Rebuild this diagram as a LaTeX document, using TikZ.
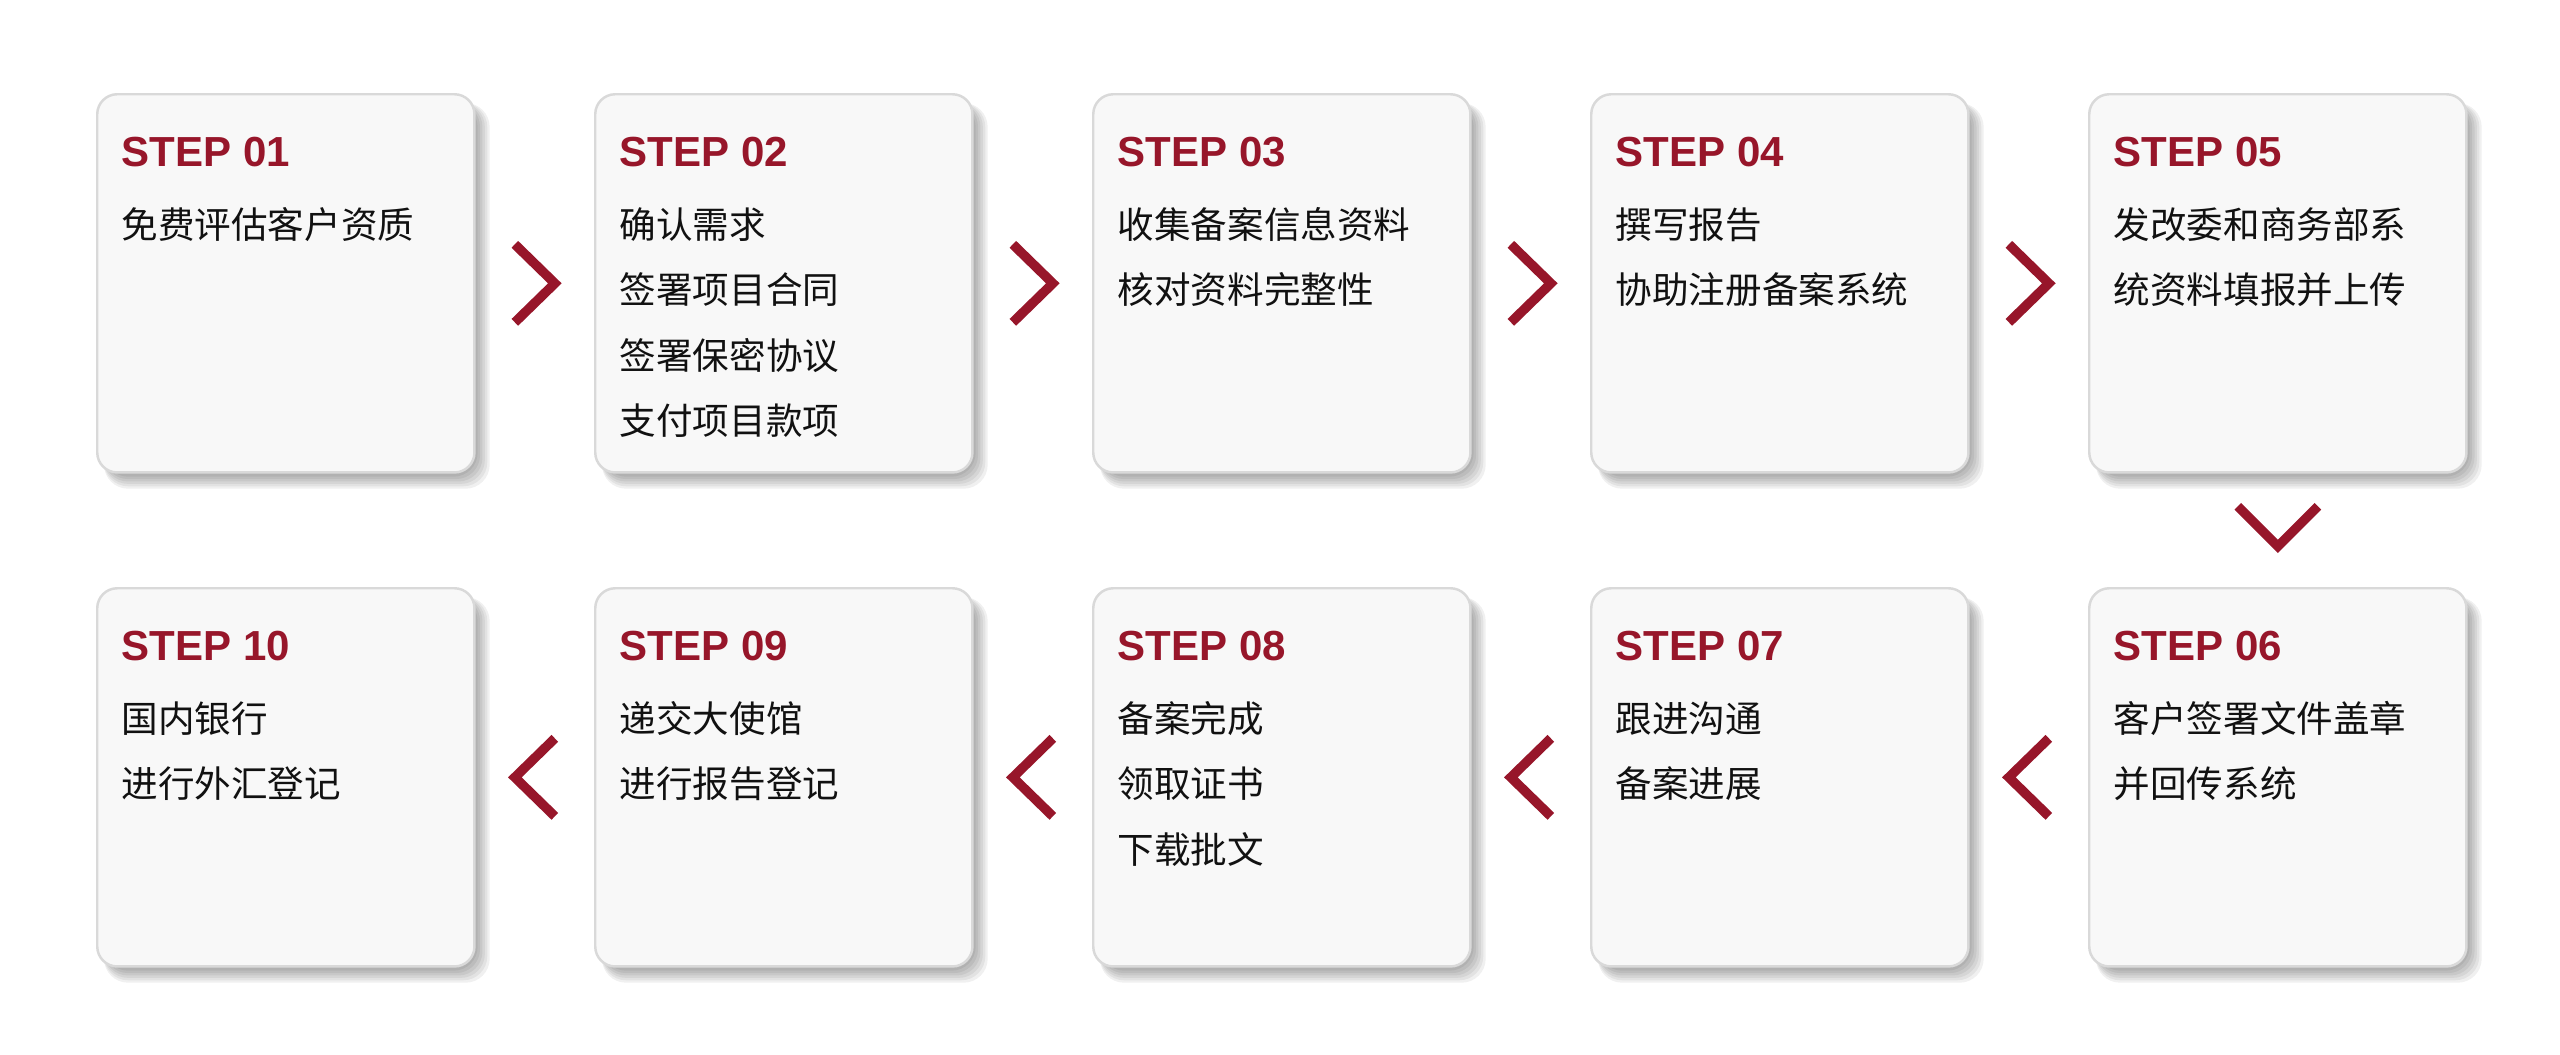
\documentclass[tikz,border=0pt]{standalone}
\usepackage{fontspec}
\setmainfont{Liberation Sans}
\newfontfamily\cjk{Noto Sans CJK SC}
\usetikzlibrary{calc,backgrounds}
\definecolor{brand}{HTML}{97162A}
\definecolor{boxfill}{HTML}{F8F8F8}
\definecolor{boxline}{HTML}{D9D9D9}
\definecolor{inktext}{HTML}{111111}
\tikzset{
  stepbox/.style={draw=boxline, line width=0.7pt, fill=boxfill, rounded corners=0.2cm,
    minimum width=3.77cm, minimum height=3.78cm, inner sep=0pt, anchor=north west},
  steptitle/.style={text=brand, font=\fontsize{11.95pt}{14pt}\selectfont\bfseries,
    anchor=base west, inner sep=0pt},
  stepline/.style={text=inktext, font=\cjk\fontsize{10.4pt}{12pt}\selectfont,
    anchor=base west, inner sep=0pt},
  shadowlayer/.style={fill=black, opacity=0.06, rounded corners=0.24cm},
  chev/.style={draw=brand, line width=2.7pt, line join=miter},
}
\begin{document}
\begin{tikzpicture}[x=0.01cm, y=-0.01cm]
\useasboundingbox (0,0) rectangle (2560,1054);
\foreach \n/\t/\cx/\ry/\lines in {
  1/01/96/93/{免费评估客户资质},
  2/02/594/93/{确认需求,签署项目合同,签署保密协议,支付项目款项},
  3/03/1092/93/{收集备案信息资料,核对资料完整性},
  4/04/1590/93/{撰写报告,协助注册备案系统},
  5/05/2088/93/{发改委和商务部系,统资料填报并上传},
  6/06/2088/587/{客户签署文件盖章,并回传系统},
  7/07/1590/587/{跟进沟通,备案进展},
  8/08/1092/587/{备案完成,领取证书,下载批文},
  9/09/594/587/{递交大使馆,进行报告登记},
  10/10/96/587/{国内银行,进行外汇登记}}{
  \node[stepbox] (s\n) at (\cx,\ry) {};
  \node[steptitle] (h\n) at ($(s\n.north west)+(25,73)$) {STEP \t};
  \foreach \l [count=\j from 0] in \lines {
    \node[stepline] (l\n-\j) at ($(s\n.north west)+(25,145+65.5*\j)$) {\l};
  }
}
\begin{scope}[on background layer]
  \foreach \n in {1,...,10}{
    \foreach \k in {0,...,5}{
      \fill[shadowlayer] ($(s\n.north west)+(8,10)$) rectangle ($(s\n.south east)+(2+2.4*\k,3+2.4*\k)$);
    }
  }
\end{scope}
% right-pointing chevrons, top row
\foreach \a/\b in {1/2,2/3,3/4,4/5}{
  \coordinate (m\a-\b) at ($(s\a.east)!0.5!(s\b.west)$);
  \draw[chev] ($(m\a-\b)+(-20,-39)$) -- ($(m\a-\b)+(20,0)$) -- ($(m\a-\b)+(-20,39)$);
}
% down chevron
\coordinate (m5-6) at ($(s5.south)!0.5!(s6.north)+(0,-4)$);
\draw[chev] ($(m5-6)+(-40,-20)$) -- ($(m5-6)+(0,20)$) -- ($(m5-6)+(40,-20)$);
% left-pointing chevrons, bottom row
\foreach \a/\b in {6/7,7/8,8/9,9/10}{
  \coordinate (m\a-\b) at ($(s\b.east)!0.5!(s\a.west)$);
  \draw[chev] ($(m\a-\b)+(20,-39)$) -- ($(m\a-\b)+(-20,0)$) -- ($(m\a-\b)+(20,39)$);
}
\end{tikzpicture}
\end{document}
